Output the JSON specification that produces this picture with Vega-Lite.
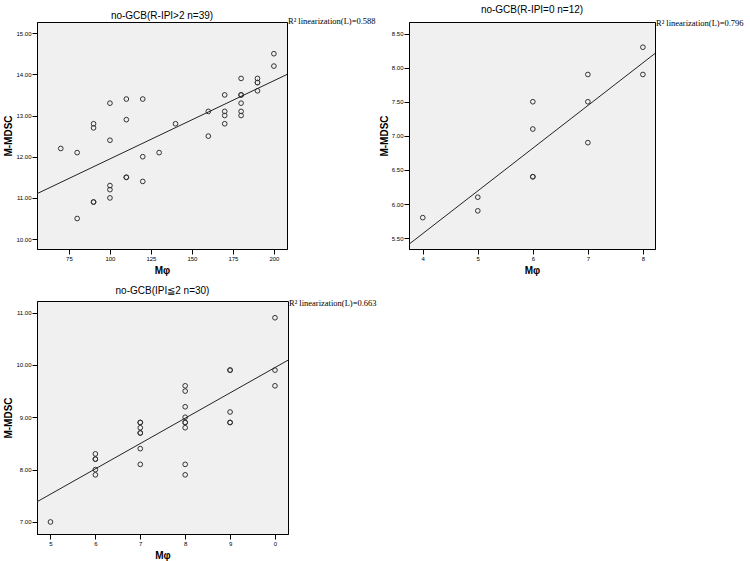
{
  "$schema": "https://vega.github.io/schema/vega-lite/v6.json",
  "background": "white",
  "padding": {"left": 3, "top": 4, "right": 5, "bottom": 2},
  "config": {
    "font": "Liberation Sans",
    "view": {"fill": "#f0f0f0", "stroke": "#000000", "strokeWidth": 1},
    "axis": {"grid": false, "labelFontSize": 6, "labelColor": "#000", "labelFont": "Liberation Sans", "titleFontSize": 10, "titleFontWeight": "bold", "titleColor": "#000", "titleFont": "Liberation Sans", "tickSize": 5, "tickColor": "#000", "domainColor": "#000", "labelPadding": 1, "labelOverlap": false},
    "axisY": {"titlePadding": 2},
    "axisX": {"titlePadding": 4},
    "title": {"fontSize": 10, "fontWeight": "normal", "color": "#000", "font": "Liberation Sans"}
  },
  "datasets": {
    "p1": [
      {"Mphi": 70, "MMDSC": 12.2},
      {"Mphi": 80, "MMDSC": 12.1}, {"Mphi": 80, "MMDSC": 10.5},
      {"Mphi": 90, "MMDSC": 12.8}, {"Mphi": 90, "MMDSC": 12.7}, {"Mphi": 90, "MMDSC": 10.9}, {"Mphi": 90, "MMDSC": 10.9},
      {"Mphi": 100, "MMDSC": 13.3}, {"Mphi": 100, "MMDSC": 12.4}, {"Mphi": 100, "MMDSC": 11.3}, {"Mphi": 100, "MMDSC": 11.2}, {"Mphi": 100, "MMDSC": 11.0},
      {"Mphi": 110, "MMDSC": 13.4}, {"Mphi": 110, "MMDSC": 12.9}, {"Mphi": 110, "MMDSC": 11.5}, {"Mphi": 110, "MMDSC": 11.5},
      {"Mphi": 120, "MMDSC": 13.4}, {"Mphi": 120, "MMDSC": 12.0}, {"Mphi": 120, "MMDSC": 11.4},
      {"Mphi": 130, "MMDSC": 12.1},
      {"Mphi": 140, "MMDSC": 12.8},
      {"Mphi": 160, "MMDSC": 13.1}, {"Mphi": 160, "MMDSC": 12.5},
      {"Mphi": 170, "MMDSC": 13.5}, {"Mphi": 170, "MMDSC": 13.1}, {"Mphi": 170, "MMDSC": 13.0}, {"Mphi": 170, "MMDSC": 12.8},
      {"Mphi": 180, "MMDSC": 13.9}, {"Mphi": 180, "MMDSC": 13.5}, {"Mphi": 180, "MMDSC": 13.5}, {"Mphi": 180, "MMDSC": 13.3}, {"Mphi": 180, "MMDSC": 13.1}, {"Mphi": 180, "MMDSC": 13.0},
      {"Mphi": 190, "MMDSC": 13.9}, {"Mphi": 190, "MMDSC": 13.8}, {"Mphi": 190, "MMDSC": 13.8}, {"Mphi": 190, "MMDSC": 13.6},
      {"Mphi": 200, "MMDSC": 14.5}, {"Mphi": 200, "MMDSC": 14.2}
    ],
    "p2": [
      {"Mphi": 4, "MMDSC": 5.8},
      {"Mphi": 5, "MMDSC": 6.1}, {"Mphi": 5, "MMDSC": 5.9},
      {"Mphi": 6, "MMDSC": 7.5}, {"Mphi": 6, "MMDSC": 7.1}, {"Mphi": 6, "MMDSC": 6.4}, {"Mphi": 6, "MMDSC": 6.4},
      {"Mphi": 7, "MMDSC": 7.9}, {"Mphi": 7, "MMDSC": 7.5}, {"Mphi": 7, "MMDSC": 6.9},
      {"Mphi": 8, "MMDSC": 8.3}, {"Mphi": 8, "MMDSC": 7.9}
    ],
    "p3": [
      {"Mphi": 5, "MMDSC": 7.0},
      {"Mphi": 6, "MMDSC": 8.3}, {"Mphi": 6, "MMDSC": 8.2}, {"Mphi": 6, "MMDSC": 8.2}, {"Mphi": 6, "MMDSC": 8.0}, {"Mphi": 6, "MMDSC": 7.9},
      {"Mphi": 7, "MMDSC": 8.9}, {"Mphi": 7, "MMDSC": 8.9}, {"Mphi": 7, "MMDSC": 8.8}, {"Mphi": 7, "MMDSC": 8.7}, {"Mphi": 7, "MMDSC": 8.7}, {"Mphi": 7, "MMDSC": 8.4}, {"Mphi": 7, "MMDSC": 8.1},
      {"Mphi": 8, "MMDSC": 9.6}, {"Mphi": 8, "MMDSC": 9.5}, {"Mphi": 8, "MMDSC": 9.2}, {"Mphi": 8, "MMDSC": 9.0}, {"Mphi": 8, "MMDSC": 8.9}, {"Mphi": 8, "MMDSC": 8.9}, {"Mphi": 8, "MMDSC": 8.8}, {"Mphi": 8, "MMDSC": 8.1}, {"Mphi": 8, "MMDSC": 7.9},
      {"Mphi": 9, "MMDSC": 9.9}, {"Mphi": 9, "MMDSC": 9.9}, {"Mphi": 9, "MMDSC": 9.1}, {"Mphi": 9, "MMDSC": 8.9}, {"Mphi": 9, "MMDSC": 8.9},
      {"Mphi": 10, "MMDSC": 10.9}, {"Mphi": 10, "MMDSC": 9.9}, {"Mphi": 10, "MMDSC": 9.6}
    ]
  },
  "vconcat": [
    {
      "hconcat": [
        {
          "width": 250, "height": 227,
          "title": {"text": "no-GCB(R-IPI>2 n=39)", "offset": -4},
          "data": {"name": "p1"},
          "layer": [
            {
              "mark": {"type": "point", "shape": "circle", "filled": false, "color": "#333333", "size": 22, "strokeWidth": 1, "opacity": 1},
              "encoding": {
                "x": {"field": "Mphi", "type": "quantitative", "scale": {"domain": [55.5, 208], "nice": false, "zero": false}, "axis": {"values": [75, 100, 125, 150, 175, 200], "format": "d", "title": "Mφ"}},
                "y": {"field": "MMDSC", "type": "quantitative", "scale": {"domain": [9.76, 15.27], "nice": false, "zero": false}, "axis": {"values": [10, 11, 12, 13, 14, 15], "format": ".2f", "title": "M-MDSC"}}
              }
            },
            {
              "transform": [{"regression": "MMDSC", "on": "Mphi", "extent": [55.5, 208]}],
              "mark": {"type": "line", "color": "#222222", "strokeWidth": 1},
              "encoding": {"x": {"field": "Mphi", "type": "quantitative"}, "y": {"field": "MMDSC", "type": "quantitative"}}
            },
            {
              "data": {"values": [{"label": "R² linearization(L)=0.588"}]},
              "mark": {"type": "text", "align": "left", "baseline": "middle", "dx": 1, "dy": -1, "font": "Liberation Serif", "fontSize": 8.5, "color": "#000"},
              "encoding": {"x": {"datum": 208}, "y": {"datum": 15.27}, "text": {"field": "label"}}
            }
          ]
        },
        {
          "width": 246, "height": 227,
          "title": {"text": "no-GCB(R-IPI=0 n=12)", "offset": 4},
          "data": {"name": "p2"},
          "layer": [
            {
              "mark": {"type": "point", "shape": "circle", "filled": false, "color": "#333333", "size": 22, "strokeWidth": 1, "opacity": 1},
              "encoding": {
                "x": {"field": "Mphi", "type": "quantitative", "scale": {"domain": [3.75, 8.22], "nice": false, "zero": false}, "axis": {"values": [4, 5, 6, 7, 8], "format": "d", "title": "Mφ"}},
                "y": {"field": "MMDSC", "type": "quantitative", "scale": {"domain": [5.34, 8.67], "nice": false, "zero": false}, "axis": {"tickCount": 7, "format": ".2f", "title": "M-MDSC"}}
              }
            },
            {
              "transform": [{"regression": "MMDSC", "on": "Mphi", "extent": [3.75, 8.22]}],
              "mark": {"type": "line", "color": "#222222", "strokeWidth": 1},
              "encoding": {"x": {"field": "Mphi", "type": "quantitative"}, "y": {"field": "MMDSC", "type": "quantitative"}}
            },
            {
              "data": {"values": [{"label": "R² linearization(L)=0.796"}]},
              "mark": {"type": "text", "align": "left", "baseline": "middle", "dx": 1, "dy": 1, "font": "Liberation Serif", "fontSize": 8.5, "color": "#000"},
              "encoding": {"x": {"datum": 8.22}, "y": {"datum": 8.67}, "text": {"field": "label"}}
            }
          ]
        }
      ],
      "spacing": 1
    },
    {
      "width": 251, "height": 233,
      "title": {"text": "no-GCB(IPI≦2 n=30)", "offset": 3},
      "data": {"name": "p3"},
      "layer": [
        {
          "mark": {"type": "point", "shape": "circle", "filled": false, "color": "#333333", "size": 22, "strokeWidth": 1, "opacity": 1},
          "encoding": {
            "x": {"field": "Mphi", "type": "quantitative", "scale": {"domain": [4.7, 10.29], "nice": false, "zero": false}, "axis": {"values": [5, 6, 7, 8, 9, 10], "format": "d", "labelExpr": "datum.value == 10 ? '0' : datum.label", "title": "Mφ"}},
            "y": {"field": "MMDSC", "type": "quantitative", "scale": {"domain": [6.77, 11.22], "nice": false, "zero": false}, "axis": {"values": [7, 8, 9, 10, 11], "format": ".2f", "title": "M-MDSC"}}
          }
        },
        {
          "transform": [{"regression": "MMDSC", "on": "Mphi", "extent": [4.7, 10.29]}],
          "mark": {"type": "line", "color": "#222222", "strokeWidth": 1},
          "encoding": {"x": {"field": "Mphi", "type": "quantitative"}, "y": {"field": "MMDSC", "type": "quantitative"}}
        },
        {
          "data": {"values": [{"label": "R² linearization(L)=0.663"}]},
          "mark": {"type": "text", "align": "left", "baseline": "middle", "dx": 1, "dy": 2, "font": "Liberation Serif", "fontSize": 8.5, "color": "#000"},
          "encoding": {"x": {"datum": 10.29}, "y": {"datum": 11.22}, "text": {"field": "label"}}
        }
      ]
    }
  ],
  "spacing": 9
}
